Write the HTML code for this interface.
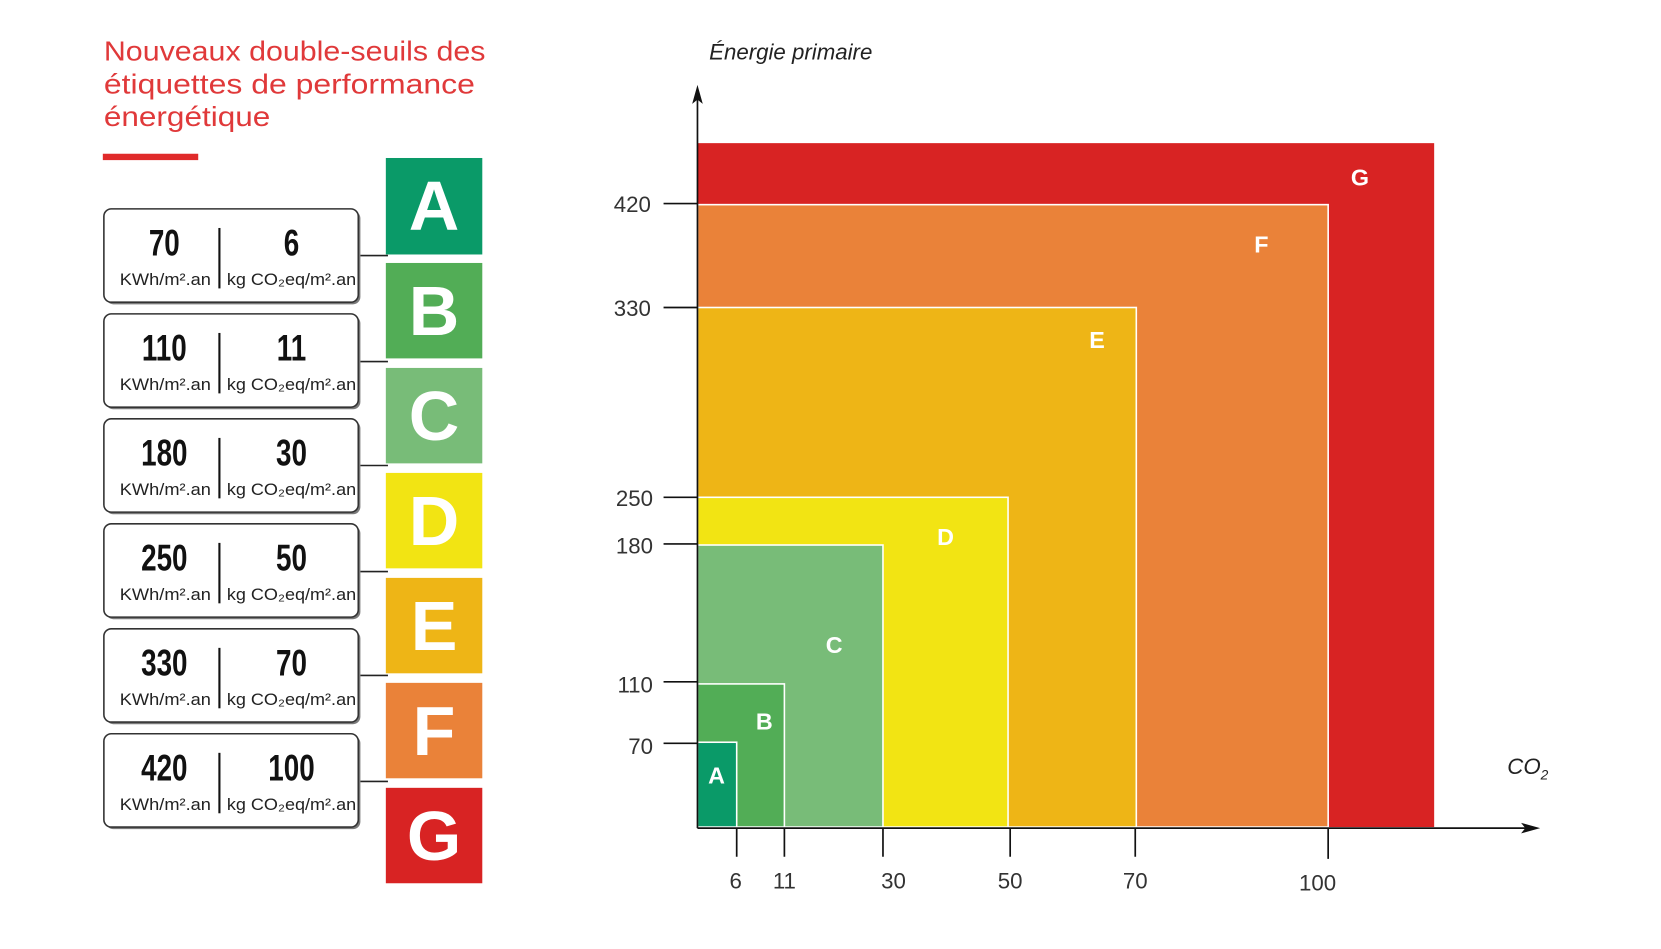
<!DOCTYPE html>
<html><head><meta charset="utf-8"><style>
html,body{margin:0;padding:0;background:#fff;}
svg{display:block;}
text{font-family:"Liberation Sans",sans-serif;}
</style></head><body>
<svg width="1661" height="949" viewBox="0 0 1567 895" preserveAspectRatio="none" xmlns="http://www.w3.org/2000/svg">
<rect width="1567" height="895" fill="#fff"/>
<g fill="#e0393a" font-size="26">
<text x="98" y="57" textLength="360" lengthAdjust="spacingAndGlyphs">Nouveaux double-seuils des</text>
<text x="98" y="88" textLength="350" lengthAdjust="spacingAndGlyphs">étiquettes de performance</text>
<text x="98" y="119" textLength="157" lengthAdjust="spacingAndGlyphs">énergétique</text>
</g>
<rect x="97" y="145" width="90" height="6" fill="#e02a2a"/>

<g stroke="#222" stroke-width="1.5">
<line x1="340" y1="241" x2="366" y2="241"/>
<line x1="340" y1="341" x2="366" y2="341"/>
<line x1="340" y1="439" x2="366" y2="439"/>
<line x1="340" y1="539" x2="366" y2="539"/>
<line x1="340" y1="637" x2="366" y2="637"/>
<line x1="340" y1="737" x2="366" y2="737"/>
</g>

<g>
<rect x="100" y="199" width="240" height="88" rx="7" fill="#7a7a7a"/>
<rect x="98" y="197" width="240" height="88" rx="7" fill="#fff" stroke="#333" stroke-width="1.5"/>
<rect x="100" y="298" width="240" height="88" rx="7" fill="#7a7a7a"/>
<rect x="98" y="296" width="240" height="88" rx="7" fill="#fff" stroke="#333" stroke-width="1.5"/>
<rect x="100" y="397" width="240" height="88" rx="7" fill="#7a7a7a"/>
<rect x="98" y="395" width="240" height="88" rx="7" fill="#fff" stroke="#333" stroke-width="1.5"/>
<rect x="100" y="496" width="240" height="88" rx="7" fill="#7a7a7a"/>
<rect x="98" y="494" width="240" height="88" rx="7" fill="#fff" stroke="#333" stroke-width="1.5"/>
<rect x="100" y="595" width="240" height="88" rx="7" fill="#7a7a7a"/>
<rect x="98" y="593" width="240" height="88" rx="7" fill="#fff" stroke="#333" stroke-width="1.5"/>
<rect x="100" y="694" width="240" height="88" rx="7" fill="#7a7a7a"/>
<rect x="98" y="692" width="240" height="88" rx="7" fill="#fff" stroke="#333" stroke-width="1.5"/>
</g>

<g stroke="#111" stroke-width="2">
<line x1="207" y1="215" x2="207" y2="272"/>
<line x1="207" y1="314" x2="207" y2="371"/>
<line x1="207" y1="413" x2="207" y2="470"/>
<line x1="207" y1="512" x2="207" y2="569"/>
<line x1="207" y1="611" x2="207" y2="668"/>
<line x1="207" y1="710" x2="207" y2="767"/>
</g>

<g fill="#111" font-weight="bold" font-size="32" text-anchor="middle">
<g transform="translate(155,241) scale(0.82,1.1)"><text>70</text></g><g transform="translate(275,241) scale(0.82,1.1)"><text>6</text></g>
<g transform="translate(155,340) scale(0.82,1.1)"><text>110</text></g><g transform="translate(275,340) scale(0.82,1.1)"><text>11</text></g>
<g transform="translate(155,439) scale(0.82,1.1)"><text>180</text></g><g transform="translate(275,439) scale(0.82,1.1)"><text>30</text></g>
<g transform="translate(155,538) scale(0.82,1.1)"><text>250</text></g><g transform="translate(275,538) scale(0.82,1.1)"><text>50</text></g>
<g transform="translate(155,637) scale(0.82,1.1)"><text>330</text></g><g transform="translate(275,637) scale(0.82,1.1)"><text>70</text></g>
<g transform="translate(155,736) scale(0.82,1.1)"><text>420</text></g><g transform="translate(275,736) scale(0.82,1.1)"><text>100</text></g>
</g>
<g fill="#222" font-size="16">
<text x="113" y="269" textLength="86" lengthAdjust="spacingAndGlyphs">KWh/m².an</text><text x="214" y="269" textLength="122" lengthAdjust="spacingAndGlyphs">kg CO₂eq/m².an</text>
<text x="113" y="368" textLength="86" lengthAdjust="spacingAndGlyphs">KWh/m².an</text><text x="214" y="368" textLength="122" lengthAdjust="spacingAndGlyphs">kg CO₂eq/m².an</text>
<text x="113" y="467" textLength="86" lengthAdjust="spacingAndGlyphs">KWh/m².an</text><text x="214" y="467" textLength="122" lengthAdjust="spacingAndGlyphs">kg CO₂eq/m².an</text>
<text x="113" y="566" textLength="86" lengthAdjust="spacingAndGlyphs">KWh/m².an</text><text x="214" y="566" textLength="122" lengthAdjust="spacingAndGlyphs">kg CO₂eq/m².an</text>
<text x="113" y="665" textLength="86" lengthAdjust="spacingAndGlyphs">KWh/m².an</text><text x="214" y="665" textLength="122" lengthAdjust="spacingAndGlyphs">kg CO₂eq/m².an</text>
<text x="113" y="764" textLength="86" lengthAdjust="spacingAndGlyphs">KWh/m².an</text><text x="214" y="764" textLength="122" lengthAdjust="spacingAndGlyphs">kg CO₂eq/m².an</text>
</g>

<rect x="364" y="149" width="91" height="91" fill="#0a9a68"/>
<rect x="364" y="248" width="91" height="90" fill="#52ad56"/>
<rect x="364" y="347" width="91" height="90" fill="#78bc78"/>
<rect x="364" y="446" width="91" height="90" fill="#f2e413"/>
<rect x="364" y="545" width="91" height="90" fill="#eeb516"/>
<rect x="364" y="644" width="91" height="90" fill="#ea8239"/>
<rect x="364" y="743" width="91" height="90" fill="#d82323"/>
<g fill="#fff" font-weight="bold" font-size="66" text-anchor="middle">
<text x="409.5" y="217">A</text>
<text x="409.5" y="316">B</text>
<text x="409.5" y="415">C</text>
<text x="409.5" y="514">D</text>
<text x="409.5" y="613">E</text>
<text x="409.5" y="712">F</text>
<text x="409.5" y="811">G</text>
</g>

<rect x="658" y="135" width="695" height="645" fill="#d82323"/>
<rect x="658" y="193" width="595" height="587" fill="#ea8239" stroke="#fff" stroke-width="1.5"/>
<rect x="658" y="290" width="414" height="490" fill="#eeb516" stroke="#fff" stroke-width="1.5"/>
<rect x="658" y="469" width="293" height="311" fill="#f2e413" stroke="#fff" stroke-width="1.5"/>
<rect x="658" y="514" width="175" height="266" fill="#78bc78" stroke="#fff" stroke-width="1.5"/>
<rect x="658" y="645" width="82" height="135" fill="#52ad56" stroke="#fff" stroke-width="1.5"/>
<rect x="658" y="700" width="37" height="80" fill="#0a9a68" stroke="#fff" stroke-width="1.5"/>
<g fill="#fff" font-weight="bold" font-size="22" text-anchor="middle">
<text x="1283" y="175">G</text>
<text x="1190" y="238">F</text>
<text x="1035" y="328">E</text>
<text x="892" y="514">D</text>
<text x="787" y="616">C</text>
<text x="721" y="688">B</text>
<text x="676" y="739">A</text>
</g>
<g stroke="#111" stroke-width="1.6">
<line x1="658" y1="781" x2="1440" y2="781"/>
<line x1="658" y1="781" x2="658" y2="92"/>
<line x1="626" y1="192" x2="658" y2="192"/>
<line x1="626" y1="290" x2="658" y2="290"/>
<line x1="626" y1="469" x2="658" y2="469"/>
<line x1="626" y1="513" x2="658" y2="513"/>
<line x1="626" y1="643" x2="658" y2="643"/>
<line x1="626" y1="701" x2="658" y2="701"/>
<line x1="695" y1="781" x2="695" y2="808"/>
<line x1="740" y1="781" x2="740" y2="808"/>
<line x1="833" y1="781" x2="833" y2="808"/>
<line x1="953" y1="781" x2="953" y2="808"/>
<line x1="1071" y1="781" x2="1071" y2="808"/>
<line x1="1253" y1="781" x2="1253" y2="810"/>
</g>
<polygon points="658,80 653,98 658,94 663,98" fill="#111"/>
<polygon points="1453,781 1435,776 1439,781 1435,786" fill="#111"/>
<g fill="#333" font-size="21" text-anchor="end">
<text x="614" y="200">420</text>
<text x="614" y="298">330</text>
<text x="616" y="477">250</text>
<text x="616" y="522">180</text>
<text x="616" y="653">110</text>
<text x="616" y="711">70</text>
</g>
<g fill="#333" font-size="21" text-anchor="middle">
<text x="694" y="838">6</text>
<text x="740" y="838">11</text>
<text x="843" y="838">30</text>
<text x="953" y="838">50</text>
<text x="1071" y="838">70</text>
<text x="1243" y="840">100</text>
</g>
<text x="669" y="56" font-size="21" font-style="italic" fill="#222">Énergie primaire</text>
<text x="1422" y="730" font-size="21" font-style="italic" fill="#222">CO<tspan font-size="13" dy="5">2</tspan></text>
</svg>
</body></html>
